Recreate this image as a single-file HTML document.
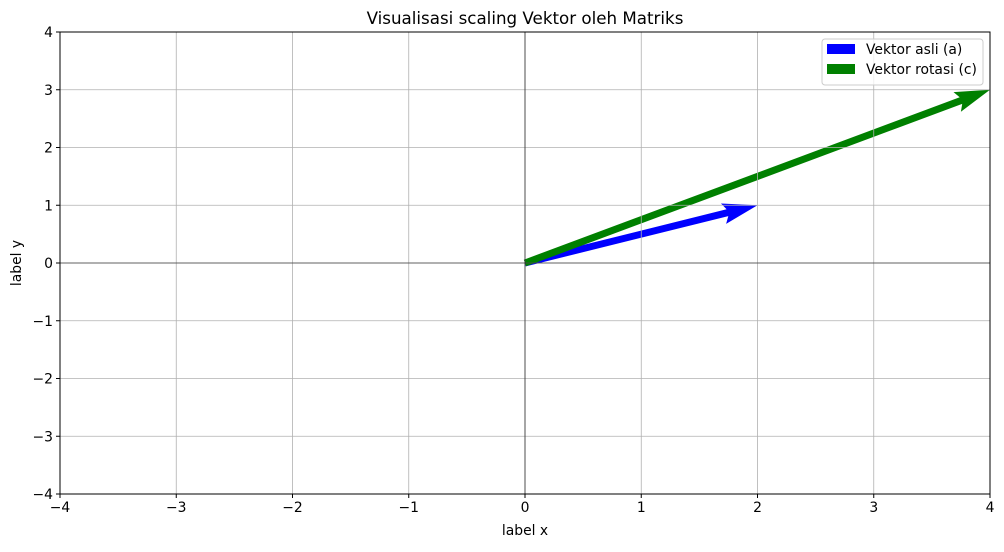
<!DOCTYPE html>
<html><head><meta charset="utf-8"><style>
body{margin:0;background:#fff}
text{font-family:"DejaVu Sans","Liberation Sans",sans-serif;fill:#000}
</style></head><body>
<svg id="chart" width="1004" height="547" xmlns="http://www.w3.org/2000/svg">
<text x="525" y="24" font-size="16.7" text-anchor="middle">Visualisasi scaling Vektor oleh Matriks</text>
<g id="arrows"></g>
<g id="grid"></g>
<g id="axes"></g>
<text x="525" y="535" font-size="13.9" text-anchor="middle">label x</text>
<text transform="translate(21,263) rotate(-90)" font-size="13.9" text-anchor="middle">label y</text>
<g>
<rect x="822" y="39" width="161" height="46" rx="3" fill="#fff" fill-opacity="0.8" stroke="#ccc"/>
<rect x="827" y="44" width="28" height="10" fill="#0000ff"/>
<text x="866" y="54" font-size="13.9">Vektor asli (a)</text>
<rect x="827" y="64" width="28" height="10" fill="#008000"/>
<text x="866" y="74" font-size="13.9">Vektor rotasi (c)</text>
</g>
</svg>
<script>
const xTicks=[-4,-3,-2,-1,0,1,2,3,4];
const yTicks=[-4,-3,-2,-1,0,1,2,3,4];
const vecNames=["vektor-asli","vektor-rotasi"];
const vecX=[2,4];
const vecY=[1,3];
const vecColors=["#0000ff","#008000"];
const L=60,R=990,T=32,B=494;
const sx=v=>L+(v+4)/8*(R-L);
const sy=v=>B-(v+4)/8*(B-T);
const NS="http://www.w3.org/2000/svg";
function mk(tag,attrs,parent){const e=document.createElementNS(NS,tag);for(const k in attrs)e.setAttribute(k,attrs[k]);parent.appendChild(e);return e;}
const grid=document.getElementById('grid'),axes=document.getElementById('axes'),arrows=document.getElementById('arrows');
xTicks.forEach(t=>{
 const g=mk('line',{x1:sx(t),x2:sx(t),y1:T,y2:B,stroke:'#b0b0b0','stroke-width':0.8},grid);
 
 
 mk('line',{x1:sx(t),x2:sx(t),y1:B,y2:B+4,stroke:'#000'},axes);
 const tx=mk('text',{x:sx(t),y:B+18,'font-size':13.9,'text-anchor':'middle'},axes);
 tx.textContent=t<0?'\u2212'+(-t):t;
 
 
});
yTicks.forEach(t=>{
 const g=mk('line',{x1:L,x2:R,y1:sy(t),y2:sy(t),stroke:'#b0b0b0','stroke-width':0.8},grid);
 
 
 mk('line',{x1:L-4,x2:L,y1:sy(t),y2:sy(t),stroke:'#000'},axes);
 const tx=mk('text',{x:L-7,y:sy(t)+5,'font-size':13.9,'text-anchor':'end'},axes);
 tx.textContent=t<0?'\u2212'+(-t):t;
 
 
});
mk('line',{x1:L,x2:R,y1:sy(0),y2:sy(0),stroke:'#000','stroke-width':0.6},grid);
mk('line',{x1:sx(0),x2:sx(0),y1:T,y2:B,stroke:'#000','stroke-width':0.6},grid);
mk('rect',{x:L,y:T,width:R-L,height:B-T,fill:'none',stroke:'#000','stroke-width':1},axes);
vecX.forEach((vx,i)=>{
 const x0=sx(0),y0=sy(0),x1=sx(vx),y1=sy(vecY[i]);
 const dx=x1-x0,dy=y1-y0,len=Math.hypot(dx,dy),ux=dx/len,uy=dy/len,px=-uy,py=ux;
 const w=3.5,hl=35,ha=31,hw=10.5;
 const pts=[[0,w],[len-ha,w],[len-hl,hw],[len,0],[len-hl,-hw],[len-ha,-w],[0,-w]]
  .map(([a,b])=>(x0+ux*a+px*b).toFixed(1)+','+(y0+uy*a+py*b).toFixed(1)).join(' ');
 const p=mk('polygon',{points:pts,fill:vecColors[i]},arrows);
 
 
});
</script>
</body></html>
